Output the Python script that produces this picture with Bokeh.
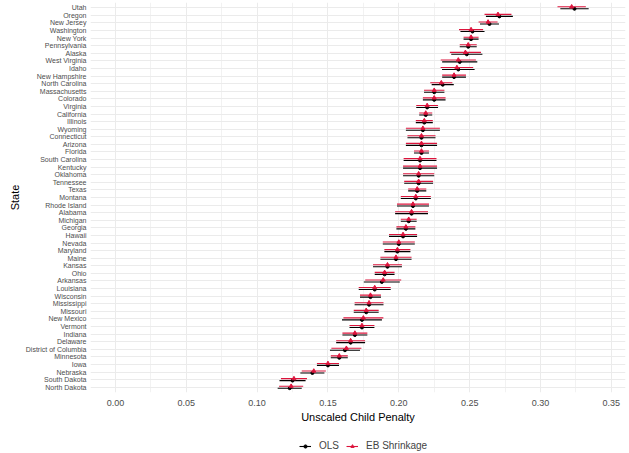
from bokeh.plotting import figure
from bokeh.models import (ColumnDataSource, FactorRange, FixedTicker, NumeralTickFormatter,
                          Legend, LegendItem, Range1d)
from bokeh.layouts import column
from bokeh.transform import dodge
from bokeh.embed import file_html
from bokeh.resources import INLINE

states = ["Utah", "Oregon", "New Jersey", "Washington", "New York", "Pennsylvania", "Alaska",
          "West Virginia", "Idaho", "New Hampshire", "North Carolina", "Massachusetts", "Colorado",
          "Virginia", "California", "Illinois", "Wyoming", "Connecticut", "Arizona", "Florida",
          "South Carolina", "Kentucky", "Oklahoma", "Tennessee", "Texas", "Montana", "Rhode Island",
          "Alabama", "Michigan", "Georgia", "Hawaii", "Nevada", "Maryland", "Maine", "Kansas", "Ohio",
          "Arkansas", "Louisiana", "Wisconsin", "Mississippi", "Missouri", "New Mexico", "Vermont",
          "Indiana", "Delaware", "District of Columbia", "Minnesota", "Iowa", "Nebraska",
          "South Dakota", "North Dakota"]

eb = [0.322, 0.270, 0.263, 0.251, 0.251, 0.249, 0.247, 0.242, 0.241, 0.239, 0.230, 0.225, 0.225,
      0.220, 0.219, 0.218, 0.217, 0.216, 0.216, 0.216, 0.215, 0.215, 0.214, 0.214, 0.213, 0.212,
      0.210, 0.209, 0.207, 0.205, 0.203, 0.200, 0.199, 0.198, 0.192, 0.190, 0.189, 0.183, 0.180,
      0.179, 0.177, 0.175, 0.174, 0.169, 0.166, 0.163, 0.158, 0.150, 0.140, 0.126, 0.124]

ols = [0.324, 0.271, 0.264, 0.252, 0.251, 0.249, 0.248, 0.243, 0.242, 0.239, 0.231, 0.225, 0.225,
       0.220, 0.219, 0.218, 0.217, 0.216, 0.216, 0.216, 0.215, 0.215, 0.214, 0.214, 0.213, 0.212,
       0.210, 0.209, 0.207, 0.205, 0.203, 0.200, 0.199, 0.198, 0.192, 0.190, 0.188, 0.183, 0.180,
       0.179, 0.177, 0.174, 0.174, 0.169, 0.166, 0.162, 0.158, 0.150, 0.139, 0.125, 0.123]

half_width = [0.0100, 0.0095, 0.0067, 0.0085, 0.0053, 0.0060, 0.0110, 0.0124, 0.0115, 0.0084,
              0.0078, 0.0072, 0.0080, 0.0077, 0.0046, 0.0060, 0.0120, 0.0099, 0.0110, 0.0053,
              0.0116, 0.0120, 0.0110, 0.0102, 0.0064, 0.0106, 0.0113, 0.0116, 0.0056, 0.0067,
              0.0099, 0.0113, 0.0092, 0.0110, 0.0102, 0.0070, 0.0127, 0.0113, 0.0074, 0.0102,
              0.0088, 0.0141, 0.0088, 0.0088, 0.0102, 0.0106, 0.0060, 0.0078, 0.0085, 0.0092,
              0.0085]

x_ticks = [0.00, 0.05, 0.10, 0.15, 0.20, 0.25, 0.30, 0.35]
x_minor = [0.025, 0.075, 0.125, 0.175, 0.225, 0.275, 0.325]

RED = "#DC143C"
FONT = "Liberation Sans"

src = ColumnDataSource(dict(
    state=states, eb=eb, ols=ols,
    eb_lo=[v - h for v, h in zip(eb, half_width)], eb_hi=[v + h for v, h in zip(eb, half_width)],
    ols_lo=[v - h for v, h in zip(ols, half_width)], ols_hi=[v + h for v, h in zip(ols, half_width)],
))

yr = FactorRange(factors=states[::-1], range_padding=0.2, range_padding_units="absolute")
p = figure(width=629, height=431, y_range=yr, x_range=Range1d(-0.0176, 0.36),
           output_backend="svg", toolbar_location=None,
           min_border_left=90, min_border_right=4, min_border_top=2, min_border_bottom=39)
p.outline_line_color = None
p.background_fill_color = "white"

y_ols = dodge("state", -0.13, range=yr)
y_eb = dodge("state", 0.13, range=yr)


def draw(fig):
    a = fig.segment(x0="ols_lo", x1="ols_hi", y0=y_ols, y1=y_ols, source=src,
                    line_color="black", line_width=1.1)
    b = fig.scatter(x="ols", y=y_ols, source=src, marker="circle", size=3,
                    fill_color="black", line_color="black")
    c = fig.segment(x0="eb_lo", x1="eb_hi", y0=y_eb, y1=y_eb, source=src,
                    line_color=RED, line_width=1.1)
    d = fig.scatter(x="eb", y=y_eb, source=src, marker="triangle", size=4,
                    fill_color=RED, line_color=RED)
    return a, b, c, d


draw(p)

# grids
p.xgrid.ticker = FixedTicker(ticks=x_ticks, minor_ticks=x_minor)
p.xgrid.grid_line_color = "#EBEBEB"
p.xgrid.grid_line_width = 1
p.xgrid.minor_grid_line_color = "#F2F2F2"
p.xgrid.minor_grid_line_width = 1
p.ygrid.grid_line_color = "#EBEBEB"
p.ygrid.grid_line_width = 1

# x axis
xa = p.xaxis[0]
xa.ticker = FixedTicker(ticks=x_ticks, minor_ticks=x_minor)
xa.formatter = NumeralTickFormatter(format="0.00")
xa.axis_label = "Unscaled Child Penalty"
xa.axis_line_color = None
xa.major_tick_line_color = None
xa.minor_tick_line_color = None
xa.major_tick_out = 0
xa.minor_tick_out = 0
xa.major_label_text_font = FONT
xa.major_label_text_font_size = "9px"
xa.major_label_text_color = "#4D4D4D"
xa.major_label_standoff = 7
xa.axis_label_text_font = FONT
xa.axis_label_text_font_size = "11px"
xa.axis_label_text_font_style = "normal"
xa.axis_label_text_color = "black"
xa.axis_label_standoff = 2

# y axis
ya = p.yaxis[0]
ya.axis_label = "State"
ya.axis_line_color = None
ya.major_tick_line_color = None
ya.minor_tick_line_color = None
ya.major_tick_out = 0
ya.minor_tick_out = 0
ya.major_label_text_font = FONT
ya.major_label_text_font_size = "7px"
ya.major_label_text_color = "#4D4D4D"
ya.major_label_standoff = 4
ya.axis_label_text_font = FONT
ya.axis_label_text_font_size = "11px"
ya.axis_label_text_font_style = "normal"
ya.axis_label_text_color = "black"
ya.axis_label_standoff = 2

# legend strip (its own renderers sit outside its visible x range)
lf = figure(width=629, height=22, y_range=yr, x_range=Range1d(5, 6),
            x_axis_type=None, y_axis_type=None, output_backend="svg", toolbar_location=None,
            min_border=0, min_border_left=90, min_border_right=4)
lf.outline_line_color = None
lf.xgrid.visible = False
lf.ygrid.visible = False
a, b, c, d = draw(lf)
legend = Legend(items=[LegendItem(label="OLS", renderers=[a, b]),
                       LegendItem(label="EB Shrinkage", renderers=[c, d])],
                orientation="horizontal", location=(209, 2),
                label_text_font=FONT, label_text_font_size="10px",
                glyph_width=12, glyph_height=8, label_standoff=8, spacing=7,
                padding=2, margin=0, border_line_color=None, background_fill_alpha=0)
lf.add_layout(legend)

layout = column(p, lf, spacing=0)
open("out.html", "w").write(file_html(layout, INLINE))
